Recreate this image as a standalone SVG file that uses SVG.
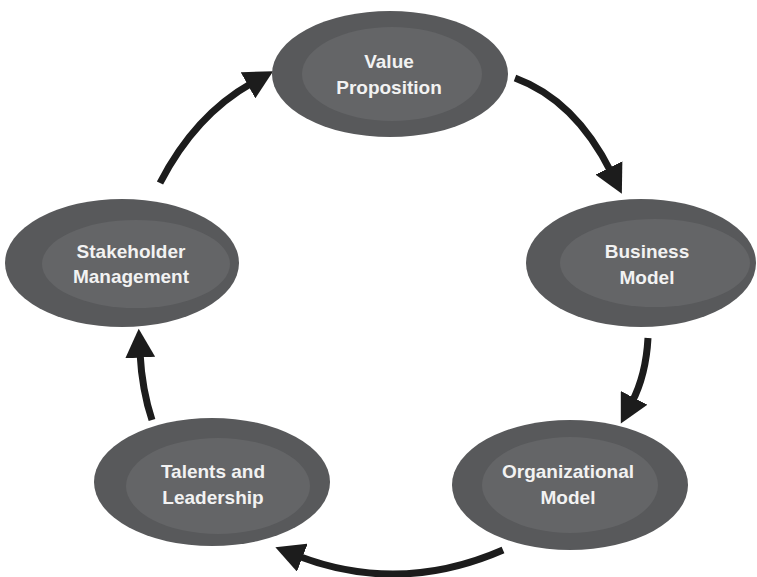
<svg xmlns="http://www.w3.org/2000/svg" width="757" height="577" viewBox="0 0 757 577">
  <style>
    .outer { fill: #58595b; }
    .inner { fill: #646567; }
    .label { font-family: "Liberation Sans", Arial, sans-serif; font-weight: bold; font-size: 19px; fill: #f2f2f2; text-anchor: middle; }
    .arrow { fill: none; stroke: #1c1c1c; stroke-width: 7; marker-end: url(#head); }
  </style>
  <defs>
    <marker id="head" markerUnits="userSpaceOnUse" markerWidth="30" markerHeight="30" viewBox="0 -13 26 26" refX="4" refY="0" orient="auto">
      <path d="M0,-13 L25,0 L0,13 z" fill="#1c1c1c"/>
    </marker>
  </defs>
  <rect width="757" height="577" fill="#ffffff"/>

  <g id="connectors">
    <path class="arrow" d="M515,78 Q575,100 611,172"/>
    <path class="arrow" d="M648,338 Q646,375 632,402"/>
    <path class="arrow" d="M503,550 Q400,595 298,556"/>
    <path class="arrow" d="M152,420 Q142,390 140,353"/>
    <path class="arrow" d="M160,183 Q195,115 252,83"/>
  </g>

  <g id="value-proposition">
    <ellipse class="outer" cx="390" cy="74" rx="118" ry="63"/>
    <ellipse class="inner" cx="392" cy="74" rx="90" ry="47"/>
    <text class="label" x="389" y="68">Value</text>
    <text class="label" x="389" y="94">Proposition</text>
  </g>

  <g id="business-model">
    <ellipse class="outer" cx="641" cy="263" rx="115" ry="64"/>
    <ellipse class="inner" cx="655" cy="263" rx="95" ry="44"/>
    <text class="label" x="647" y="258">Business</text>
    <text class="label" x="647" y="284">Model</text>
  </g>

  <g id="organizational-model">
    <ellipse class="outer" cx="570" cy="485" rx="118" ry="65"/>
    <ellipse class="inner" cx="570" cy="485" rx="88" ry="48"/>
    <text class="label" x="568" y="478">Organizational</text>
    <text class="label" x="568" y="504">Model</text>
  </g>

  <g id="talents-leadership">
    <ellipse class="outer" cx="212" cy="482" rx="118" ry="64"/>
    <ellipse class="inner" cx="218" cy="486" rx="92" ry="48"/>
    <text class="label" x="213" y="478">Talents and</text>
    <text class="label" x="213" y="504">Leadership</text>
  </g>

  <g id="stakeholder-management">
    <ellipse class="outer" cx="122" cy="263" rx="117" ry="64"/>
    <ellipse class="inner" cx="136" cy="264" rx="94" ry="44"/>
    <text class="label" x="131" y="258">Stakeholder</text>
    <text class="label" x="131" y="283">Management</text>
  </g>
</svg>
